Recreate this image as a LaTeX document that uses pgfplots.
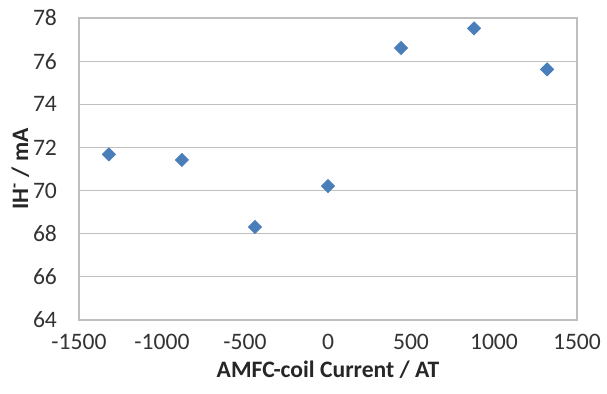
\documentclass[border=0pt]{standalone}
\usepackage{fontspec}
\setmainfont{Carlito}
\usepackage{pgfplots}
\pgfplotsset{compat=1.18}
\definecolor{exblue}{HTML}{4A7EBB}
\definecolor{gridgray}{HTML}{BFBFBF}
\begin{document}
\fontsize{11.5}{13.8}\selectfont
\begin{tikzpicture}
\path[use as bounding box] (-39.5pt,-37pt) rectangle (264pt,160pt);
\begin{axis}[
  at={(0pt,0pt)}, anchor=south west,
  scale only axis, width=249pt, height=151pt,
  xmin=-1500, xmax=1500, ymin=64, ymax=78,
  xtick={-1500,-1000,...,1500}, ytick={64,66,...,78},
  major tick length=0pt,
  axis line style={gridgray, line width=0.8pt},
  ymajorgrids, grid style={gridgray, line width=0.6pt},
  /pgf/number format/assume math mode=true,
  /pgf/number format/1000 sep={},
  ticklabel style={font=\fontsize{11.8}{14}\selectfont, text=black!80},
  yticklabel style={xshift=-7pt},
  xticklabel style={yshift=-3pt},
  xlabel={\bfseries AMFC-coil Current / AT},
  ylabel={\bfseries IH\textsuperscript{-} / mA},
  label style={font=\fontsize{11.8}{14}\selectfont, text=black!85},
  xlabel style={yshift=2pt},
  ylabel style={yshift=-6pt},
]
\addplot[only marks, mark=square*, mark size=2.3pt, mark options={rotate=45, fill=exblue, draw=exblue}] coordinates {
(-1320,71.68) (-880,71.42) (-440,68.31) (0,70.21) (440,76.61) (880,77.52) (1320,75.62)
};
\end{axis}
\end{tikzpicture}
\end{document}
